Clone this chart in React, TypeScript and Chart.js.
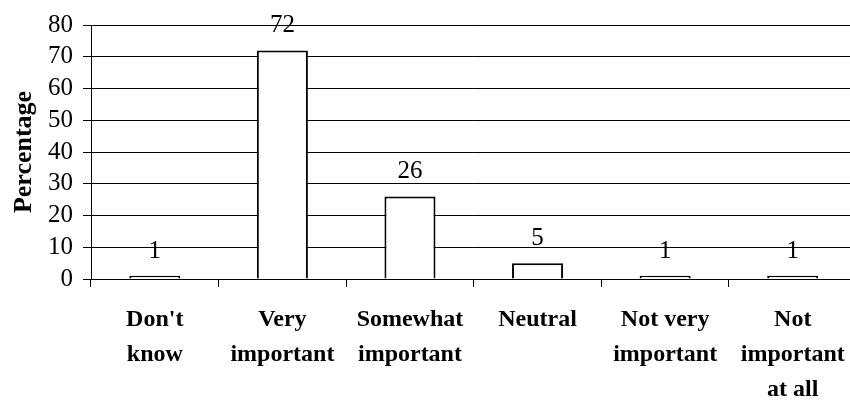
import React, { useEffect, useRef } from "react";
import { Chart, registerables } from "chart.js";

Chart.register(...registerables);

const categories: string[][] = [
  ["Don't", "know"],
  ["Very", "important"],
  ["Somewhat", "important"],
  ["Neutral"],
  ["Not very", "important"],
  ["Not", "important", "at all"],
];
const values: number[] = [1, 72, 26, 5, 1, 1];
const yTicks: number[] = [0, 10, 20, 30, 40, 50, 60, 70, 80];
const yTitle = "Percentage";

const FONT = "'Liberation Serif', 'Times New Roman', serif";

const valueLabels = {
  id: "valueLabels",
  afterDatasetsDraw(chart: any) {
    const ctx = chart.ctx;
    const meta = chart.getDatasetMeta(0);
    ctx.save();
    ctx.font = `25px ${FONT}`;
    ctx.fillStyle = "#000";
    ctx.textAlign = "center";
    ctx.textBaseline = "alphabetic";
    meta.data.forEach((el: any, i: number) => {
      ctx.fillText(String(values[i]), el.x, el.y - 18);
    });
    ctx.restore();
  },
};

export default function App() {
  const ref = useRef<HTMLCanvasElement>(null);
  useEffect(() => {
    if (!ref.current) return;
    const chart = new Chart(ref.current, {
      type: "bar",
      data: {
        labels: categories,
        datasets: [
          {
            data: values,
            backgroundColor: "#fff",
            borderColor: "#000",
            borderWidth: 2,
            barPercentage: 0.4,
            categoryPercentage: 1,
          },
        ],
      },
      options: {
        responsive: false,
        animation: false,
        devicePixelRatio: 1,
        layout: { padding: { top: 25, right: 3.4, left: 0, bottom: 0 } },
        plugins: {
          legend: { display: false },
          tooltip: { enabled: false },
        },
        scales: {
          x: {
            grid: {
              display: true,
              drawOnChartArea: false,
              drawTicks: true,
              tickLength: 8,
              color: "#000",
              offset: true,
            },
            border: { display: true, color: "#000", width: 1 },
            ticks: {
              color: "#000",
              font: { family: FONT, size: 24, weight: "bold", lineHeight: 1.46 },
              padding: 15,
              maxRotation: 0,
              autoSkip: false,
            },
            afterFit(scale: any) {
              scale.height = 124;
            },
          },
          y: {
            min: 0,
            max: 80,
            afterBuildTicks(scale: any) {
              scale.ticks = yTicks.map((v) => ({ value: v }));
            },
            grid: {
              color: "#000",
              lineWidth: 1,
              drawTicks: true,
              tickLength: 8,
            },
            border: { display: true, color: "#000", width: 1 },
            ticks: {
              color: "#000",
              font: { family: FONT, size: 25, lineHeight: 1 },
              padding: 10,
              autoSkip: false,
            },
            title: {
              display: true,
              text: yTitle,
              color: "#000",
              font: { family: FONT, size: 26, weight: "bold", lineHeight: 1.2 },
              padding: { top: 9, bottom: 0 },
            },
            afterFit(scale: any) {
              scale.width = 91;
            },
          },
        },
      },
      plugins: [valueLabels],
    });
    return () => chart.destroy();
  }, []);
  return (
    <div
      style={{
        position: "fixed",
        left: 0,
        top: 0,
        width: 850,
        height: 403,
        overflow: "hidden",
        background: "#fff",
      }}
    >
      <canvas ref={ref} width={860} height={403} style={{ width: 860, height: 403, display: "block" }} />
    </div>
  );
}
